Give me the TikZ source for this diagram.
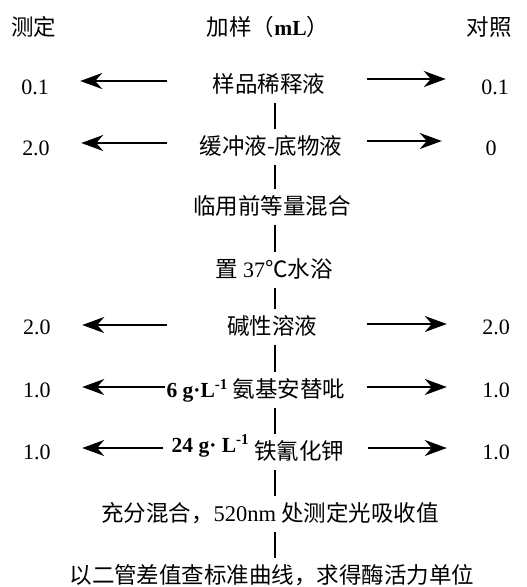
\documentclass[tikz,border=0pt]{standalone}
\usepackage{fontspec}
\setmainfont{Liberation Serif}
\newfontfamily\cjk{Noto Sans CJK SC}
\usetikzlibrary{arrows.meta}
\newcommand{\lat}{\rmfamily\fontsize{22}{26}\selectfont}
\newcommand{\latb}{\rmfamily\bfseries\fontsize{21.5}{24}\selectfont}
\begin{document}
\begin{tikzpicture}[x=1pt,y=-1pt,
  cn/.style={font=\fontsize{22.5}{26}\selectfont\cjk, inner xsep=0pt, inner ysep=7pt, text height=18pt, text depth=4pt},
  num/.style={font=\lat, inner sep=0pt, text height=14pt, text depth=0pt},
  lnum/.style={num, minimum width=90pt},
  rnum/.style={num, minimum width=98pt},
  link/.style={line width=1.6pt},
  arr/.style={line width=1.8pt, -{Stealth[length=22pt,width=16pt,inset=7pt]}}
]
\useasboundingbox[fill=white] (0,0) rectangle (527,587);
\coordinate (spine) at (275,0);

% header
\node[cn] (h1) at (34,28) {测定};
\node[cn] (h2) at (268,28) {加样（{\latb mL}）};
\node[cn] (h3) at (489,28) {对照};

% central column
\node[cn] (c1) at (269,85) {样品稀释液};
\node[cn] (c2) at (271,147) {缓冲液-底物液};
\node[cn] (c3) at (272,207) {临用前等量混合};
\node[cn] (c4) at (274,270) {置 {\rmfamily\fontsize{22}{26}\selectfont 37}℃水浴};
\node[cn] (c5) at (272,327) {碱性溶液};
\node[cn] (c6) at (256,390) {{\latb 6 g·L\textsuperscript{-1}} 氨基安替吡};
\node[cn] (c7) at (258,452) {\raisebox{7pt}{\latb 24 g· L\textsuperscript{-1}} 铁氰化钾};
\node[cn] (c8) at (270,514) {充分混合，{\rmfamily\fontsize{22.5}{26}\selectfont 520nm} 处测定光吸收值};
\node[cn] (c9) at (272,576) {以二管差值查标准曲线，求得酶活力单位};

% side numbers
\node[lnum] (l1) at (35,87) {0.1};
\node[lnum] (l2) at (36,148) {2.0};
\node[lnum] (l5) at (37,327) {2.0};
\node[lnum] (l6) at (37,390) {1.0};
\node[lnum] (l7) at (37,452) {1.0};
\node[rnum] (r1) at (495,87) {0.1};
\node[rnum] (r2) at (491,148) {0};
\node[rnum] (r5) at (496,327) {2.0};
\node[rnum] (r6) at (496,390) {1.0};
\node[rnum] (r7) at (496,452) {1.0};

% vertical links
\foreach \a/\b in {c1/c2,c2/c3,c3/c4,c4/c5,c5/c6,c6/c7,c7/c8,c8/c9}
  \draw[link] (\a.south -| spine) -- (\b.north -| spine);

% arrow start points
\coordinate (sl1) at (167,81);  \coordinate (sr1) at (367,79);
\coordinate (sl2) at (167,143); \coordinate (sr2) at (367,141);
\coordinate (sl5) at (167,325); \coordinate (sr5) at (367,324);
\coordinate (sl6) at (165,387); \coordinate (sr6) at (367,387);
\coordinate (sl7) at (163,448); \coordinate (sr7) at (368,448);

\foreach \i in {1,2,5,6,7}{
  \draw[arr] (sl\i) -- (sl\i -| l\i.east);
  \draw[arr] (sr\i) -- (sr\i -| r\i.west);
}
\end{tikzpicture}
\end{document}
